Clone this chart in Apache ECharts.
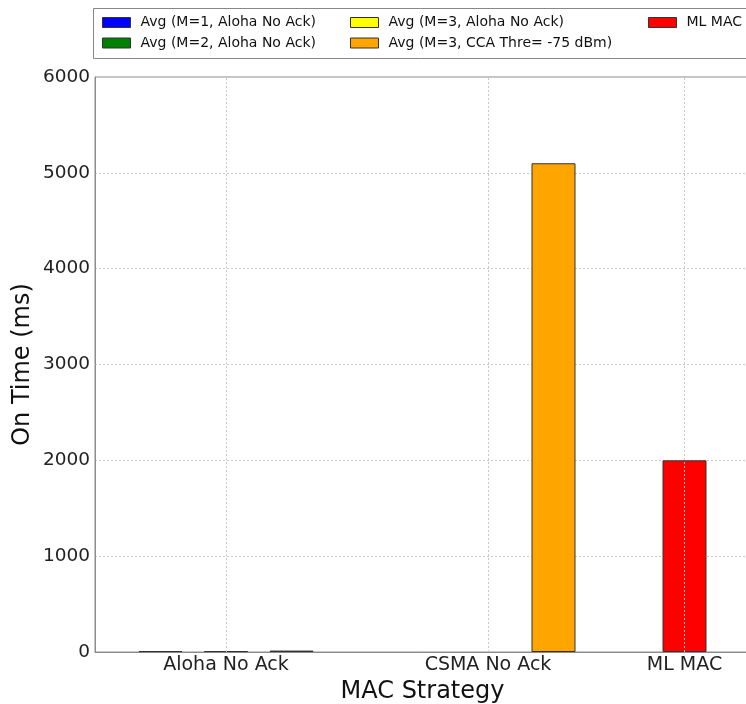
<!DOCTYPE html>
<html>
<head>
<meta charset="utf-8">
<script src="https://cdn.jsdelivr.net/npm/echarts@6/dist/echarts.min.js"></script>
<style>
  html, body { margin: 0; padding: 0; background: #fff; }
  #chart { width: 746px; height: 704px; }
</style>
</head>
<body>
<div id="chart"></div>
<script>
// MAC strategies and where each group sits on the x scale (in bar slots)
const categories = ['Aloha No Ack', 'CSMA No Ack', 'ML MAC'];
const categoryPos = [0, 4, 7];

// Series names and colours
const seriesNames = [
  'Avg (M=1, Aloha No Ack)',
  'Avg (M=2, Aloha No Ack)',
  'Avg (M=3, Aloha No Ack)',
  'Avg (M=3, CCA Thre= -75 dBm)',
  'ML MAC'
];
const seriesColors = ['#0000ff', '#008000', '#ffff00', '#ffa500', '#ff0000'];

// On-time values (ms) as [slot position, value]
const m1Aloha = [[-1, 10]];
const m2Aloha = [[0, 10]];
const m3Aloha = [[1, 15]];
const m3Cca = [[5, 5100]];
const mlMac = [[7, 2000]];
const seriesData = [m1Aloha, m2Aloha, m3Aloha, m3Cca, mlMac];

// Y ticks
const yTicks = [0, 1000, 2000, 3000, 4000, 5000, 6000];

const FONT = 'DejaVu Sans';
const chart = echarts.init(document.getElementById('chart'), null, { renderer: 'canvas' });

const series = seriesNames.map((name, i) => ({
  name: name,
  type: 'bar',
  data: seriesData[i],
  barWidth: 44,
  barGap: '-100%',
  itemStyle: { color: seriesColors[i], borderColor: '#333', borderWidth: 1 },
  emphasis: { disabled: true },
  z: 3
}));

// vertical dotted grid lines at the category positions
series.push({
  type: 'line',
  data: [],
  silent: true,
  markLine: {
    silent: true,
    symbol: 'none',
    label: { show: false },
    lineStyle: { color: '#c8c8c8', type: [2, 2], width: 1 },
    data: categoryPos.map(p => ({ xAxis: p }))
  },
  z: 1
});

const legendBase = {
  orient: 'vertical',
  padding: 0,
  itemWidth: 28,
  itemHeight: 10,
  itemGap: 4.5,
  icon: 'rect',
  selectedMode: false,
  itemStyle: { borderColor: '#333', borderWidth: 1 },
  textStyle: { fontFamily: FONT, fontSize: 14, lineHeight: 16, color: '#111', padding: [0, 0, 0, 5] }
};

chart.setOption({
  animation: false,
  backgroundColor: '#fff',
  legend: [
    Object.assign({}, legendBase, { left: 102, top: 14.5, data: [seriesNames[0], seriesNames[1]] }),
    Object.assign({}, legendBase, { left: 350, top: 14.5, data: [seriesNames[2], seriesNames[3]] }),
    Object.assign({}, legendBase, { left: 648, top: 14.5, data: [seriesNames[4]] })
  ],
  graphic: [{
    type: 'rect',
    shape: { x: 93.5, y: 8.5, width: 700, height: 50 },
    style: { fill: 'none', stroke: '#888', lineWidth: 1 },
    silent: true
  }],
  grid: {
    left: 95, right: -4, top: 77, bottom: 52,
    outerBoundsMode: 'none',
    show: true, borderColor: '#8c8c8c', borderWidth: 1,
    containLabel: false
  },
  xAxis: {
    type: 'value',
    min: -2, max: 8,
    name: 'MAC Strategy',
    nameLocation: 'middle',
    nameGap: 28,
    nameMoveOverlap: false,
    nameTextStyle: { fontFamily: FONT, fontSize: 24, color: '#111', verticalAlign: 'top' },
    axisLine: { show: true, onZero: false, lineStyle: { color: '#8c8c8c', width: 1 } },
    axisTick: { show: false, customValues: categoryPos },
    splitLine: { show: false },
    axisLabel: {
      customValues: categoryPos,
      fontFamily: FONT, fontSize: 19, color: '#222', margin: 4,
      formatter: v => categories[categoryPos.indexOf(v)] || ''
    }
  },
  yAxis: {
    type: 'value',
    min: yTicks[0], max: yTicks[yTicks.length - 1], interval: 1000,
    name: 'On Time (ms)',
    nameLocation: 'middle',
    nameGap: 60,
    nameMoveOverlap: false,
    nameTextStyle: { fontFamily: FONT, fontSize: 24, color: '#111' },
    axisLine: { show: true, onZero: false, lineStyle: { color: '#8c8c8c', width: 1 } },
    axisTick: { show: false },
    splitLine: { show: true, lineStyle: { color: '#c8c8c8', type: [2, 2], width: 1 } },
    axisLabel: { fontFamily: FONT, fontSize: 18.5, color: '#222', margin: 5, formatter: v => String(v) }
  },
  series: series
});
</script>
</body>
</html>
